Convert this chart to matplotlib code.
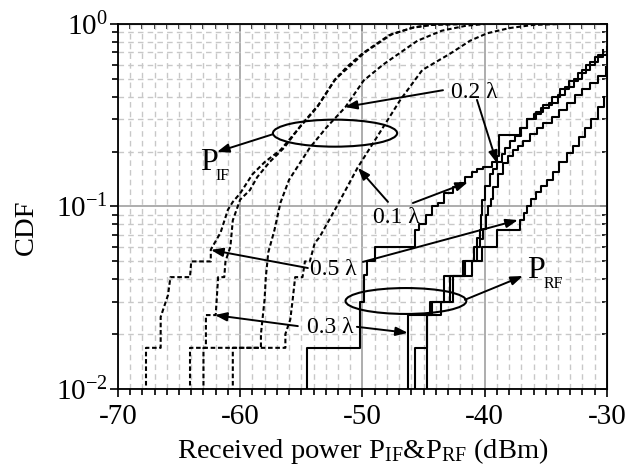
import numpy as np
import matplotlib.pyplot as plt
from matplotlib.patches import Ellipse
from matplotlib.ticker import MultipleLocator, LogLocator, NullFormatter, FuncFormatter

plt.rcParams['font.family'] = ['Liberation Serif', 'DejaVu Serif']
plt.rcParams['mathtext.fontset'] = 'custom'
plt.rcParams['mathtext.rm'] = 'Liberation Serif'
plt.rcParams['mathtext.it'] = 'Liberation Serif:italic'

# P_IF curves (dashed): received power (dBm) vs CDF
if01_x = [-60.6, -60.6, -56.3, -56.3, -55.9, -55.7, -55.5, -54.9, -54.7, -54.3, -53.9, -53.5, -52.1,
          -50.4, -48.6, -46.9, -45.1, -42.8, -41.2, -39.8, -38.0, -36.0, -34.0]
if01_y = [0.005, 0.0168, 0.0168, 0.02, 0.024, 0.031, 0.041, 0.041, 0.05, 0.05, 0.063, 0.068, 0.1,
          0.163, 0.253, 0.384, 0.56, 0.69, 0.81, 0.89, 0.95, 0.99, 1.0]
if02_x = [-64.1, -64.1, -58.3, -58.3, -58.0, -57.9, -57.7, -57.2, -56.7, -56.0, -54.3, -52.9, -51.4,
          -49.9, -48.3, -47.0, -45.5, -43.5, -41.5, -40.0]
if02_y = [0.005, 0.0168, 0.0168, 0.02, 0.031, 0.041, 0.056, 0.074, 0.105, 0.14, 0.21, 0.273, 0.35,
          0.49, 0.6, 0.69, 0.81, 0.92, 0.98, 1.0]
if03_x = [-63.0, -63.0, -62.8, -62.8, -62.0, -61.8, -61.3, -61.2, -60.8, -60.6, -60.0, -59.2, -58.6,
          -57.6, -56.4, -55.0, -53.6, -52.2, -51.0, -49.8, -47.6, -45.8, -44.0, -42.0]
if03_y = [0.005, 0.0168, 0.0168, 0.0254, 0.0254, 0.041, 0.041, 0.05, 0.06, 0.084, 0.109, 0.123, 0.145,
          0.175, 0.21, 0.28, 0.36, 0.5, 0.59, 0.70, 0.88, 0.96, 0.995, 1.0]
if05_x = [-67.7, -67.7, -66.5, -66.5, -65.9, -65.7, -64.1, -64.0, -62.4, -62.4, -61.6, -61.0, -60.6,
          -60.0, -59.0, -58.0, -56.7, -55.1, -53.7, -52.3, -51.3, -50.0, -47.8, -46.0, -44.5, -42.0]
if05_y = [0.005, 0.0168, 0.0168, 0.0248, 0.0327, 0.041, 0.041, 0.05, 0.05, 0.058, 0.072, 0.096, 0.106,
          0.118, 0.15, 0.175, 0.204, 0.273, 0.35, 0.49, 0.58, 0.69, 0.87, 0.95, 0.99, 1.0]

# P_RF curves (solid, stepped): power where CDF jumps, CDF after the jump
rf01_x = [-54.5, -54.5, -50.2, -49.9, -49.6, -49.0, -45.7, -45.4, -44.8, -44.3, -43.8, -43.3, -42.6,
          -42.0, -41.6, -41.0, -40.6, -40.1, -39.4, -39.0, -38.8, -37.1, -36.5, -36.0, -35.4, -34.7,
          -34.0, -33.4, -32.7, -32.0, -31.4, -30.7, -30.0]
rf01_y = [0.005, 0.0168, 0.03, 0.042, 0.05, 0.06, 0.074, 0.08, 0.09, 0.1, 0.105, 0.118, 0.128,
          0.134, 0.145, 0.155, 0.16, 0.165, 0.175, 0.19, 0.247, 0.27, 0.3, 0.32, 0.345, 0.37,
          0.41, 0.45, 0.5, 0.56, 0.62, 0.68, 0.75]
rf02_x = [-45.7, -45.7, -44.7, -44.3, -42.6, -41.6, -40.9, -40.6, -40.4, -40.3, -40.2, -40.0, -39.6,
          -39.3, -39.0, -38.6, -38.3, -37.9, -37.5, -37.0, -36.5, -35.8, -35.2, -34.5, -33.8, -33.1,
          -32.4, -31.7, -31.0, -30.3]
rf02_y = [0.005, 0.0168, 0.0254, 0.03, 0.0415, 0.05, 0.06, 0.067, 0.074, 0.09, 0.109, 0.13, 0.15,
          0.16, 0.175, 0.195, 0.21, 0.228, 0.245, 0.27, 0.3, 0.33, 0.36, 0.4, 0.44, 0.49,
          0.54, 0.6, 0.66, 0.72]
rf03_x = [-46.3, -46.3, -44.5, -43.3, -41.8, -40.6, -40.4, -40.1, -39.9, -39.7, -39.5, -39.3, -38.9,
          -38.5, -38.1, -37.7, -37.3, -36.9, -36.3, -35.7, -35.2, -34.5, -33.9, -33.3, -32.6, -32.0,
          -31.4, -30.7, -30.1]
rf03_y = [0.005, 0.0254, 0.03, 0.0415, 0.05, 0.06, 0.066, 0.075, 0.09, 0.1, 0.11, 0.128, 0.15,
          0.173, 0.19, 0.204, 0.215, 0.23, 0.25, 0.27, 0.287, 0.31, 0.34, 0.37, 0.41, 0.44,
          0.475, 0.52, 0.58]
rf05_x = [-44.7, -44.7, -43.6, -42.8, -41.0, -40.2, -39.0, -37.1, -36.8, -36.5, -36.2, -35.8, -35.4,
          -34.9, -34.4, -33.9, -33.3, -32.8, -32.3, -31.8, -31.3, -30.7, -30.2]
rf05_y = [0.005, 0.0254, 0.03, 0.0415, 0.05, 0.06, 0.074, 0.084, 0.092, 0.1, 0.11, 0.12, 0.13,
          0.14, 0.155, 0.175, 0.196, 0.215, 0.24, 0.27, 0.3, 0.35, 0.4]

x_ticks = [-70, -60, -50, -40, -30]

fig = plt.figure(figsize=(6.27, 4.72), dpi=100)
ax = fig.add_axes([0.188, 0.176, 0.780, 0.773])

for x, y in [(if01_x, if01_y), (if02_x, if02_y), (if03_x, if03_y), (if05_x, if05_y)]:
    ax.plot(x, y, color='k', lw=1.5, ls=(0, (2.2, 1.3)))
for x, y in [(rf01_x, rf01_y), (rf02_x, rf02_y), (rf03_x, rf03_y), (rf05_x, rf05_y)]:
    ax.plot(x, y, color='k', lw=1.5, drawstyle='steps-post')

ax.set_yscale('log')
ax.set_xlim(-70, -30)
ax.set_ylim(1e-2, 1)
ax.set_xticks(x_ticks)
ax.xaxis.set_minor_locator(MultipleLocator(1))
ax.yaxis.set_major_locator(LogLocator(base=10))
ax.yaxis.set_minor_locator(LogLocator(base=10, subs=range(2, 10)))
ax.yaxis.set_minor_formatter(NullFormatter())
ax.yaxis.set_major_formatter(FuncFormatter(lambda v, p: r'$\mathregular{10^{%d}}$' % round(np.log10(v))))
ax.xaxis.set_major_formatter(FuncFormatter(lambda v, p: '%d' % v))

ax.set_axisbelow(True)
ax.grid(which='major', color='#a0a0a0', lw=1.2, ls='-')
ax.grid(which='minor', color='#c8c8c8', lw=1.0, ls=(0, (4, 3)))

ax.tick_params(which='both', direction='out', top=False, right=False, width=1.2, labelsize=21)
ax.tick_params(which='major', length=6)
ax.tick_params(which='minor', length=4)
ax.tick_params(axis='x', pad=5)
ax.tick_params(axis='y', pad=1)
for s in ax.spines.values():
    s.set_linewidth(1.3)

secx = ax.secondary_xaxis('top')
secx.xaxis.set_major_locator(MultipleLocator(10))
secx.xaxis.set_minor_locator(MultipleLocator(1))
secx.xaxis.set_major_formatter(NullFormatter())
secx.tick_params(which='both', direction='in', width=1.2)
secx.tick_params(which='major', length=5)
secx.tick_params(which='minor', length=3.5)
secy = ax.secondary_yaxis('right')
secy.yaxis.set_major_locator(LogLocator(base=10))
secy.yaxis.set_minor_locator(LogLocator(base=10, subs=range(2, 10)))
secy.yaxis.set_major_formatter(NullFormatter())
secy.yaxis.set_minor_formatter(NullFormatter())
secy.tick_params(which='both', direction='in', width=1.2)
secy.tick_params(which='major', length=5)
secy.tick_params(which='minor', length=3.5)

ax.set_xlabel(r'Received power $\mathrm{P_{IF}}$&$\mathrm{P_{RF}}$ (dBm)', fontsize=20.5)
ax.xaxis.set_label_coords(0.5, -0.128)
ax.set_ylabel('CDF', fontsize=20.5)
ax.yaxis.set_label_coords(-0.162, 0.444)

# ellipses grouping the two sets of curves
ax.add_patch(Ellipse((0.444, 0.701), 0.254, 0.074, transform=ax.transAxes, fill=False, lw=1.5, color='k'))
ax.add_patch(Ellipse((0.589, 0.241), 0.247, 0.071, transform=ax.transAxes, fill=False, lw=1.5, color='k'))

arrow = dict(arrowstyle='-|>,head_length=0.6,head_width=0.22', color='k', lw=1.4,
             mutation_scale=12, shrinkA=0, shrinkB=0)


def point(tail, tip):
    ax.annotate('', xy=tip, xytext=tail, arrowprops=arrow)


lab = dict(fontsize=17, ha='center', va='center')
ax.text(-40.88, 0.424, '0.2 λ', **lab)
point((-43.41, 0.434), (-51.43, 0.351))
point((-40.63, 0.384), (-39.0, 0.173))
ax.text(-47.26, 0.0875, '0.1 λ', **lab)
point((-47.91, 0.106), (-50.37, 0.163))
point((-45.87, 0.1045), (-41.37, 0.136))
ax.text(-52.4, 0.0449, '0.5 λ', **lab)
point((-54.46, 0.046), (-62.39, 0.0578))
point((-49.96, 0.0497), (-37.28, 0.0843))
ax.text(-52.66, 0.0216, '0.3 λ', **lab)
point((-55.28, 0.0221), (-62.07, 0.0254))
point((-50.45, 0.0219), (-46.28, 0.0203))

point((-57.32, 0.249), (-61.9, 0.199))
ax.text(-63.3, 0.158, 'P', fontsize=23, va='baseline', ha='left')
ax.text(-62.0, 0.140, 'IF', fontsize=11.5, va='baseline', ha='left')
point((-41.62, 0.0308), (-36.87, 0.0416))
ax.text(-36.54, 0.0406, 'P', fontsize=23, va='baseline', ha='left')
ax.text(-35.15, 0.0357, 'RF', fontsize=11.5, va='baseline', ha='left')

fig.savefig('out.png', dpi=100)
